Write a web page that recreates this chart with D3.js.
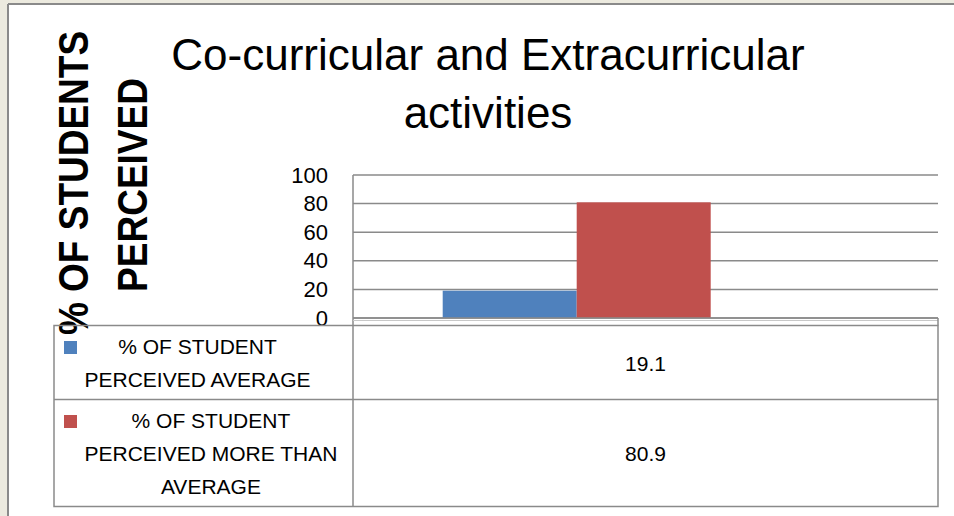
<!DOCTYPE html>
<html>
<head>
<meta charset="utf-8">
<script src="https://cdn.jsdelivr.net/npm/d3@7"></script>
<style>
  html, body { margin: 0; padding: 0; background: #ECEADF; }
  svg { display: block; }
  text { font-family: "Liberation Sans", Arial, sans-serif; fill: #000; }
</style>
</head>
<body>
<svg id="chart" width="954" height="516"></svg>
<script>
// ---- data ----
const titleLines = ["Co-curricular and Extracurricular", "activities"];
const yTitleLines = ["% OF STUDENTS", "PERCEIVED"];
const categories = [""];
const seriesNames = ["% OF STUDENT PERCEIVED AVERAGE", "% OF STUDENT PERCEIVED MORE THAN AVERAGE"];
const seriesValues = [19.1, 80.9];
const seriesColors = ["#4F81BD", "#C0504D"];
const yTicks = [0, 20, 40, 60, 80, 100];

(function () {
// ---- layout ----
const W = 954, H = 516;
const plot = { left: 353, right: 938, top: 175, bottom: 318 };
const groupLeft = 442.7, groupRight = 710.7;
const table = { left: 54, mid: 353, right: 938, top: 325.5 };
const gridColor = "#8A8A8A";

const svg = d3.select("#chart");

// white card with top/left border
svg.append("rect").attr("x", 8).attr("y", 4).attr("width", W - 8).attr("height", H - 4).attr("fill", "#fff");
svg.append("line").attr("x1", 8).attr("x2", W).attr("y1", 4).attr("y2", 4).attr("stroke", gridColor).attr("stroke-width", 2);
svg.append("line").attr("x1", 8).attr("x2", 8).attr("y1", 4).attr("y2", H).attr("stroke", gridColor).attr("stroke-width", 2);

// scales
const y = d3.scaleLinear().domain([0, 100]).range([plot.bottom, plot.top]);
const x0 = d3.scaleBand().domain(categories).range([groupLeft, groupRight]).padding(0);
const x1 = d3.scaleBand().domain(seriesNames).range([0, x0.bandwidth()]).padding(0);

// gridlines
svg.append("g").selectAll("line").data(yTicks).join("line")
  .attr("x1", plot.left).attr("x2", plot.right)
  .attr("y1", d => y(d)).attr("y2", d => y(d))
  .attr("stroke", gridColor).attr("stroke-width", 1.5);

// y axis labels via d3 axis
const yAxis = d3.axisLeft(y).tickValues(yTicks).tickSize(0).tickPadding(0).tickFormat(d3.format("d"));
const yg = svg.append("g").attr("transform", `translate(328,0)`).call(yAxis);
yg.select(".domain").remove();
yg.selectAll("text").attr("font-size", 22).attr("font-family", "Liberation Sans, Arial, sans-serif").attr("fill", "#000");

// axis line on left
svg.append("line").attr("x1", plot.left).attr("x2", plot.left).attr("y1", plot.top).attr("y2", table.top)
  .attr("stroke", gridColor).attr("stroke-width", 1.5);

// bars
svg.append("g").selectAll("rect").data(seriesNames.map((s, i) => ({ s, v: seriesValues[i], c: seriesColors[i], cat: categories[0] })))
  .join("rect")
  .attr("x", d => x0(d.cat) + x1(d.s))
  .attr("width", x1.bandwidth())
  .attr("y", d => y(d.v))
  .attr("height", d => y(0) - y(d.v))
  .attr("fill", d => d.c);

// zero line on top
svg.append("line").attr("x1", plot.left).attr("x2", plot.right).attr("y1", y(0)).attr("y2", y(0))
  .attr("stroke", gridColor).attr("stroke-width", 1.5);
svg.append("line").attr("x1", plot.left).attr("x2", plot.right).attr("y1", 320.5).attr("y2", 320.5)
  .attr("stroke", "#C8C8C8").attr("stroke-width", 1);
svg.append("line").attr("x1", plot.right).attr("x2", plot.right).attr("y1", y(0)).attr("y2", table.top)
  .attr("stroke", gridColor).attr("stroke-width", 1.5);

// title
svg.append("g").selectAll("text").data(titleLines).join("text")
  .attr("x", 488).attr("y", (d, i) => 70 + i * 58)
  .attr("text-anchor", "middle").attr("font-size", 44)
  .text(d => d);

// y axis title (rotated, slightly stretched across its height like the original)
const yTitlePos = [{ bx: 88, cy: 183 }, { bx: 147, cy: 185 }];
svg.append("g").selectAll("text").data(yTitleLines).join("text")
  .attr("transform", (d, i) => `translate(${yTitlePos[i].bx},${yTitlePos[i].cy}) rotate(-90) scale(1,1.15)`)
  .attr("text-anchor", "middle").attr("font-size", 37).attr("font-weight", "bold")
  .text(d => d);

// ---- data table ----
const fs = 21, lineH = 33, wrapW = 262, blockLeft = 84.5;
const measure = svg.append("text").attr("font-size", fs).attr("x", -1000).attr("y", -1000);
function tw(s) { measure.text(s); return measure.node().getComputedTextLength(); }
function wrap(s) {
  const words = s.split(" "); const lines = []; let cur = "";
  words.forEach(w => {
    const t = cur ? cur + " " + w : w;
    if (cur && tw(t) > wrapW) { lines.push(cur); cur = w; } else cur = t;
  });
  if (cur) lines.push(cur);
  return lines;
}
let rowTop = table.top;
const rows = seriesNames.map((s, i) => {
  const lines = wrap(s);
  const h = lines.length * lineH + 8;
  const r = { s, v: seriesValues[i], c: seriesColors[i], lines, top: rowTop, h, maxW: d3.max(lines, tw) };
  rowTop += h;
  return r;
});
measure.remove();
const tableBottom = rowTop;

const tg = svg.append("g");
tg.append("rect").attr("x", table.left).attr("y", table.top)
  .attr("width", table.right - table.left).attr("height", tableBottom - table.top)
  .attr("fill", "none").attr("stroke", gridColor).attr("stroke-width", 1.5);
tg.append("line").attr("x1", table.mid).attr("x2", table.mid).attr("y1", table.top).attr("y2", tableBottom)
  .attr("stroke", gridColor).attr("stroke-width", 1.5);
tg.selectAll("line.row").data(rows.slice(1)).join("line").attr("class", "row")
  .attr("x1", table.left).attr("x2", table.right).attr("y1", d => d.top).attr("y2", d => d.top)
  .attr("stroke", gridColor).attr("stroke-width", 1.5);

rows.forEach(r => {
  const cy = r.top + r.h / 2;
  const firstBase = cy + 8 - (r.lines.length - 1) * lineH / 2;
  tg.append("rect").attr("x", 64).attr("y", firstBase - 13).attr("width", 13).attr("height", 13).attr("fill", r.c);
  tg.append("g").selectAll("text").data(r.lines).join("text")
    .attr("x", blockLeft + r.maxW / 2).attr("y", (d, i) => firstBase + i * lineH)
    .attr("text-anchor", "middle").attr("font-size", fs).text(d => d);
  tg.append("text").attr("x", (table.mid + table.right) / 2).attr("y", cy + 8)
    .attr("text-anchor", "middle").attr("font-size", fs).text(r.v);
});
})();
</script>
</body>
</html>
